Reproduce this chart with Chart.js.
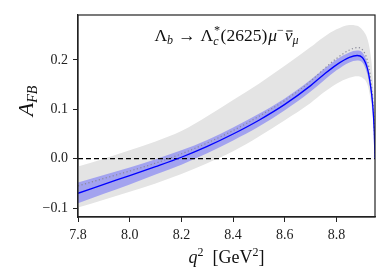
<!DOCTYPE html>
<html>
<head>
<meta charset="utf-8">
<script src="https://cdn.jsdelivr.net/npm/chart.js@4.4.0/dist/chart.umd.min.js"></script>
<style>
  html, body { margin: 0; padding: 0; background: #fff; }
</style>
</head>
<body>
<canvas id="afbChart" width="390" height="273"></canvas>
<script>
// q^2 grid (GeV^2) and A_FB curves
const q2 = [7.8, 7.9, 8.0, 8.1, 8.2, 8.3, 8.4, 8.5, 8.6, 8.7, 8.75, 8.8, 8.85, 8.88, 8.9, 8.92, 8.93, 8.94, 8.946, 8.949];
const afbCentral = [-0.070, -0.052, -0.034, -0.016, 0.003, 0.025, 0.050, 0.078, 0.110, 0.148, 0.170, 0.190, 0.205, 0.209, 0.205, 0.182, 0.154, 0.110, 0.056, 0.0];
const afbDotted = [-0.055, -0.040, -0.025, -0.009, 0.010, 0.032, 0.057, 0.086, 0.118, 0.157, 0.181, 0.203, 0.220, 0.225, 0.221, 0.198, 0.170, 0.122, 0.062, 0.0];
const blueUpper = [-0.048, -0.033, -0.018, -0.001, 0.017, 0.038, 0.063, 0.091, 0.122, 0.160, 0.181, 0.201, 0.215, 0.219, 0.215, 0.192, 0.164, 0.120, 0.063, 0.0];
const blueLower = [-0.090, -0.071, -0.052, -0.032, -0.012, 0.011, 0.037, 0.065, 0.098, 0.136, 0.158, 0.179, 0.195, 0.199, 0.195, 0.170, 0.142, 0.100, 0.049, 0.0];
const grayUpper = [-0.016, 0.000, 0.017, 0.035, 0.056, 0.086, 0.119, 0.152, 0.188, 0.226, 0.246, 0.262, 0.271, 0.269, 0.261, 0.242, 0.217, 0.167, 0.092, 0.0];
const grayLower = [-0.099, -0.083, -0.067, -0.050, -0.031, -0.009, 0.015, 0.045, 0.078, 0.113, 0.134, 0.152, 0.164, 0.167, 0.164, 0.150, 0.126, 0.086, 0.041, 0.0];

const xTicks = [7.8, 8.0, 8.2, 8.4, 8.6, 8.8];
const yTicks = [-0.1, 0.0, 0.1, 0.2];

const pts = ys => q2.map((x, i) => ({ x: x, y: ys[i] }));
const zeroLine = [{ x: q2[0], y: 0 }, { x: q2[q2.length - 1], y: 0 }];

const SERIF = '"Liberation Serif", "DejaVu Serif", serif';

// draw a run of text pieces: {t, size, italic, dy, stack, bar, gap}
function drawRich(ctx, parts, x, y) {
    const fontOf = p => (p.italic ? 'italic ' : '') + p.size + 'px ' + SERIF;
    let total = 0;
    parts.forEach(p => {
        ctx.font = fontOf(p);
        if (!p.stack) total += ctx.measureText(p.t).width + (p.gap || 0);
    });
    let cx = x - total / 2;
    parts.forEach(p => {
        ctx.font = fontOf(p);
        const w = ctx.measureText(p.t).width;
        const px = p.stack ? cx - p.back : cx;
        const py = y + (p.dy || 0);
        ctx.fillText(p.t, px, py);
        if (p.bar) {
            ctx.fillRect(px + 1.5, py - p.size * 0.6, w - 1.5, 1);
        }
        if (!p.stack) cx += w + (p.gap || 0);
    });
}

const decorations = {
    id: 'decorations',
    afterDraw(chart) {
        const { ctx, chartArea: a } = chart;
        ctx.save();
        // frame
        ctx.strokeStyle = '#222';
        ctx.lineWidth = 1.2;
        ctx.strokeRect(a.left, a.top, a.right - a.left, a.bottom - a.top);

        ctx.fillStyle = '#111';
        ctx.textBaseline = 'alphabetic';
        ctx.textAlign = 'left';

        // in-plot title
        drawRich(ctx, [
            { t: 'Λ', size: 17.5 },
            { t: 'b', size: 12, italic: true, dy: 3, gap: 5 },
            { t: '→', size: 17.5, gap: 5 },
            { t: 'Λ', size: 17.5 },
            { t: 'c', size: 12, italic: true, dy: 4, gap: 2 },
            { t: '*', size: 12, italic: true, dy: -7, stack: true, back: 7 },
            { t: '(2625)', size: 17.5, gap: 1 },
            { t: 'μ', size: 17.5, italic: true },
            { t: '−', size: 12, dy: -7, gap: 1 },
            { t: 'ν', size: 17.5, italic: true, bar: true },
            { t: 'μ', size: 12, italic: true, dy: 3 }
        ], (a.left + a.right) / 2, 41);

        // x title
        drawRich(ctx, [
            { t: 'q', size: 18, italic: true },
            { t: '2', size: 12, dy: -7 },
            { t: '  [GeV', size: 18 },
            { t: '2', size: 12, dy: -7 },
            { t: ']', size: 18 }
        ], (a.left + a.right) / 2, 263);

        // y title
        ctx.translate(33, 101);
        ctx.rotate(-Math.PI / 2);
        drawRich(ctx, [
            { t: 'A', size: 22, italic: true },
            { t: 'FB', size: 14, italic: true, dy: 4 }
        ], 0, 0);
        ctx.restore();
    }
};

const tickFont = { family: SERIF, size: 14 };

new Chart(document.getElementById('afbChart'), {
    type: 'line',
    data: {
        datasets: [
            {
                label: 'central',
                data: pts(afbCentral),
                borderColor: '#0000ff',
                borderWidth: 1.3,
                fill: false
            },
            {
                label: 'dotted',
                data: pts(afbDotted),
                borderColor: '#8a8a9a',
                borderWidth: 1.2,
                borderDash: [1.2, 2.4],
                fill: false
            },
            {
                label: 'zero',
                data: zeroLine,
                borderColor: '#000',
                borderWidth: 1.2,
                borderDash: [5, 3],
                cubicInterpolationMode: 'default',
                tension: 0,
                fill: false
            },
            {
                label: 'blue upper',
                data: pts(blueUpper),
                borderColor: 'transparent',
                backgroundColor: '#a3a3ef',
                fill: '+1'
            },
            {
                label: 'blue lower',
                data: pts(blueLower),
                borderColor: 'transparent',
                fill: false
            },
            {
                label: 'gray upper',
                data: pts(grayUpper),
                borderColor: 'transparent',
                backgroundColor: '#e4e4e4',
                fill: '+1'
            },
            {
                label: 'gray lower',
                data: pts(grayLower),
                borderColor: 'transparent',
                fill: false
            }
        ]
    },
    options: {
        responsive: false,
        animation: false,
        devicePixelRatio: 1,
        layout: { padding: { top: 15, right: 15, left: 0, bottom: 0 } },
        elements: {
            point: { radius: 0 },
            line: { cubicInterpolationMode: 'monotone' }
        },
        plugins: {
            legend: { display: false },
            tooltip: { enabled: false }
        },
        scales: {
            x: {
                type: 'linear',
                min: 7.8,
                max: 8.949,
                afterFit: s => { s.height = 56; },
                afterBuildTicks: s => { s.ticks = xTicks.map(v => ({ value: v })); },
                ticks: {
                    font: tickFont,
                    color: '#222',
                    padding: 5,
                    maxRotation: 0,
                    callback: v => v.toFixed(1)
                },
                grid: { drawOnChartArea: false, tickLength: 5, tickColor: '#222', tickWidth: 1 },
                border: { color: '#222', width: 1.2 }
            },
            y: {
                min: -0.118,
                max: 0.291,
                afterFit: s => { s.width = 78; },
                afterBuildTicks: s => { s.ticks = yTicks.map(v => ({ value: v })); },
                ticks: {
                    font: tickFont,
                    color: '#222',
                    padding: 5,
                    callback: v => (v < 0 ? '−' : '') + Math.abs(v).toFixed(1)
                },
                grid: { drawOnChartArea: false, tickLength: 5, tickColor: '#222', tickWidth: 1 },
                border: { color: '#222', width: 1.2 }
            }
        }
    },
    plugins: [decorations]
});
</script>
</body>
</html>
